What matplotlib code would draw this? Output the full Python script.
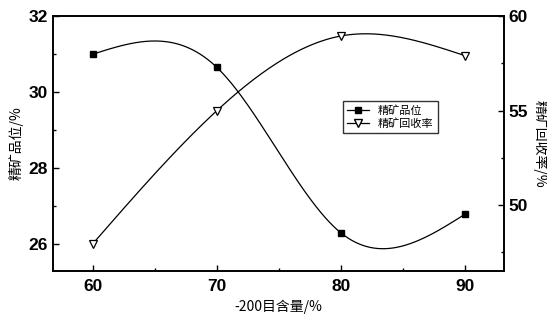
import numpy as np
import matplotlib.pyplot as plt
from matplotlib.ticker import MultipleLocator

plt.rcParams['font.family'] = ['Liberation Sans', 'Noto Sans CJK SC', 'DejaVu Sans']

x = [60, 70, 80, 90]
grade = [31.0, 30.65, 26.3, 26.8]
recovery = [47.95, 55.0, 58.95, 57.9]

cjk = ['Noto Sans CJK SC', 'DejaVu Sans']


def natural_spline(xp, yp, xs):
    # natural cubic spline, second derivative zero at both ends
    xp = np.asarray(xp, float)
    yp = np.asarray(yp, float)
    n = len(xp)
    h = np.diff(xp)
    A = np.zeros((n, n))
    b = np.zeros(n)
    A[0, 0] = A[-1, -1] = 1
    for i in range(1, n - 1):
        A[i, i - 1] = h[i - 1]
        A[i, i] = 2 * (h[i - 1] + h[i])
        A[i, i + 1] = h[i]
        b[i] = 6 * ((yp[i + 1] - yp[i]) / h[i] - (yp[i] - yp[i - 1]) / h[i - 1])
    M = np.linalg.solve(A, b)
    out = np.empty_like(xs)
    for k, xv in enumerate(xs):
        i = min(np.searchsorted(xp, xv, side='right') - 1, n - 2)
        t1 = xp[i + 1] - xv
        t0 = xv - xp[i]
        out[k] = (M[i] * t1**3 + M[i + 1] * t0**3) / (6 * h[i]) \
            + (yp[i] / h[i] - M[i] * h[i] / 6) * t1 \
            + (yp[i + 1] / h[i] - M[i + 1] * h[i] / 6) * t0
    return out


fig = plt.figure(figsize=(5.47, 3.22), dpi=100)
ax = fig.add_axes([0.097, 0.158, 0.824, 0.792])
ax2 = ax.twinx()

xs = np.linspace(60, 90, 300)
ax.plot(xs, natural_spline(x, grade, xs), color='black', lw=0.9)
ax.plot(x, grade, 's', color='black', ms=5)
ax2.plot(xs, natural_spline(x, recovery, xs), color='black', lw=0.9)
ax2.plot(x, recovery, 'v', color='black', mfc='white', ms=6, mew=0.9)

ax.set_xlim(56.8, 93.1)
ax.set_ylim(25.3, 32)
ax2.set_ylim(46.5, 60)

ax.xaxis.set_major_locator(MultipleLocator(10))
ax.xaxis.set_minor_locator(MultipleLocator(5))
ax.yaxis.set_major_locator(MultipleLocator(2))
ax.yaxis.set_minor_locator(MultipleLocator(1))
ax2.yaxis.set_major_locator(MultipleLocator(5))
ax2.yaxis.set_minor_locator(MultipleLocator(2.5))

for a in (ax, ax2):
    a.tick_params(which='both', direction='in', labelsize=12.5, width=1.0)
    a.tick_params(which='major', length=4)
    a.tick_params(which='minor', length=2)
    for lab in a.get_xticklabels() + a.get_yticklabels():
        lab.set_fontweight('bold')
    for s in a.spines.values():
        s.set_linewidth(1.2)
ax.tick_params(axis='x', pad=6)

ax.set_xlabel('-200目含量/%', family=cjk, fontsize=10)
ax.set_ylabel('精矿品位/%', family=cjk, fontsize=10, labelpad=4)
ax2.set_ylabel('精矿回收率/%', family=cjk, fontsize=10, rotation=-90, labelpad=14)

h1, = ax.plot([], [], '-s', color='black', ms=5, lw=0.9)
h2, = ax.plot([], [], '-v', color='black', mfc='white', ms=6, lw=0.9)
leg = ax.legend([h1, h2], ['精矿品位', '精矿回收率'], prop={'family': cjk, 'size': 8},
                loc='upper left', bbox_to_anchor=(0.63, 0.69), frameon=True, fancybox=False,
                edgecolor='black', handlelength=2.0, borderpad=0.4, labelspacing=0.2)
leg.get_frame().set_linewidth(1.0)

fig.savefig('out.png', dpi=100)
